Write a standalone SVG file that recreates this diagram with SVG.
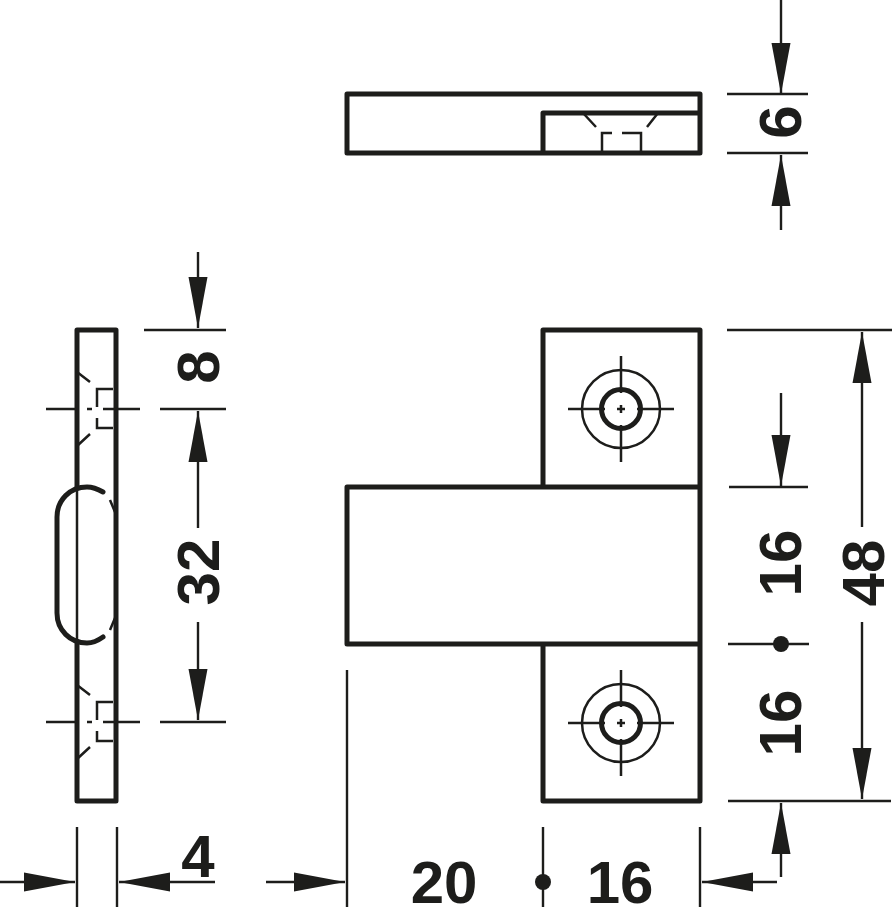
<svg xmlns="http://www.w3.org/2000/svg" width="893" height="907" viewBox="0 0 893 907">
<style>
.o{fill:none;stroke:#1d1d1b;stroke-width:5;stroke-linejoin:round;stroke-linecap:round}
.m{fill:none;stroke:#1d1d1b;stroke-width:2.5}
.d{fill:none;stroke:#1d1d1b;stroke-width:2.4}
.a{marker-end:url(#ah)}
.dot{fill:#1d1d1b}
text{font-family:"Liberation Sans",Arial,sans-serif;font-weight:700;font-size:60px;fill:#1d1d1b;text-anchor:middle}
</style>
<defs>
<marker id="ah" markerUnits="userSpaceOnUse" markerWidth="52" markerHeight="20" refX="51" refY="10" orient="auto">
<path d="M0 0.5L51 10L0 19.5Z" fill="#1d1d1b"/>
</marker>
<g id="hole">
<circle r="39" class="m"/>
<circle r="19.5" fill="none" stroke="#1d1d1b" stroke-width="5"/>
<path class="m" d="M-53 0H-16M16 0H53M0 -53V-16M0 16V53M-4 0H4M0 -4V4"/>
</g>
<g id="pin">
<path class="m" d="M77 -37L90 -27M77 37L90 25M113 -20H97V-2M97 9V19H113M46 0H77M87 0H92M103 0H140"/>
</g>
</defs>
<g id="top-view">
<path class="o" d="M347 94H700V153H347ZM543 153V113H700"/>
<path class="m" d="M583 113L596 127M658 113L647 127M602 153V133H612M622 133H641V153"/>
</g>
<g id="side-view">
<path class="o" d="M77 487V330H116V801H77V643M116 330V801"/>
<path class="m" d="M77 487V643"/>
<path class="o" d="M103 492C96 488 92 487 87 487C70 487 57 500 57 517V613C57 630 70 643 87 643C92 643 96 642 103 637"/>
<path class="m" d="M110 500L115 512M110 630L115 618"/>
<use href="#pin" y="409"/>
<use href="#pin" y="722"/>
</g>
<g id="front-view">
<path class="o" d="M543 487V330H700V801H543V644M347 487H700V644H347Z"/>
<use href="#hole" x="621" y="409"/>
<use href="#hole" x="621" y="723"/>
</g>
<g id="connectors">
<path class="d" d="M727 94H808M727 153H808M144 330H226M160 409H226M160 722H226M727 330H892M728 801H891M729 487H808M728 644H809M77 827V907M117 827V907M347 670V907M543 827V907M700 827V907"/>
<path class="d a" d="M781 0V94"/>
<path class="d a" d="M781 230V155"/>
<path class="d a" d="M198 252V328"/>
<path class="d a" d="M198 528V411"/>
<path class="d a" d="M198 622V720"/>
<path class="d a" d="M862 527V332"/>
<path class="d a" d="M862 622V799"/>
<path class="d a" d="M781 393V486"/>
<path class="d a" d="M781 877V803"/>
<path class="d a" d="M777 882H702"/>
<path class="d a" d="M0 882H75"/>
<path class="d a" d="M215 882H119"/>
<path class="d a" d="M266 882H345"/>
<circle class="dot" cx="781" cy="644" r="8"/>
<circle class="dot" cx="543" cy="882" r="8"/>
</g>
<g id="labels">
<text transform="translate(801 122) rotate(-90)">6</text>
<text transform="translate(219 367) rotate(-90)">8</text>
<text transform="translate(219 572) rotate(-90)">32</text>
<text transform="translate(801 563) rotate(-90)">16</text>
<text transform="translate(801 723) rotate(-90)">16</text>
<text transform="translate(884 573) rotate(-90)">48</text>
<text x="198" y="877">4</text>
<text x="444" y="903">20</text>
<text x="620" y="903">16</text>
</g>
</svg>
